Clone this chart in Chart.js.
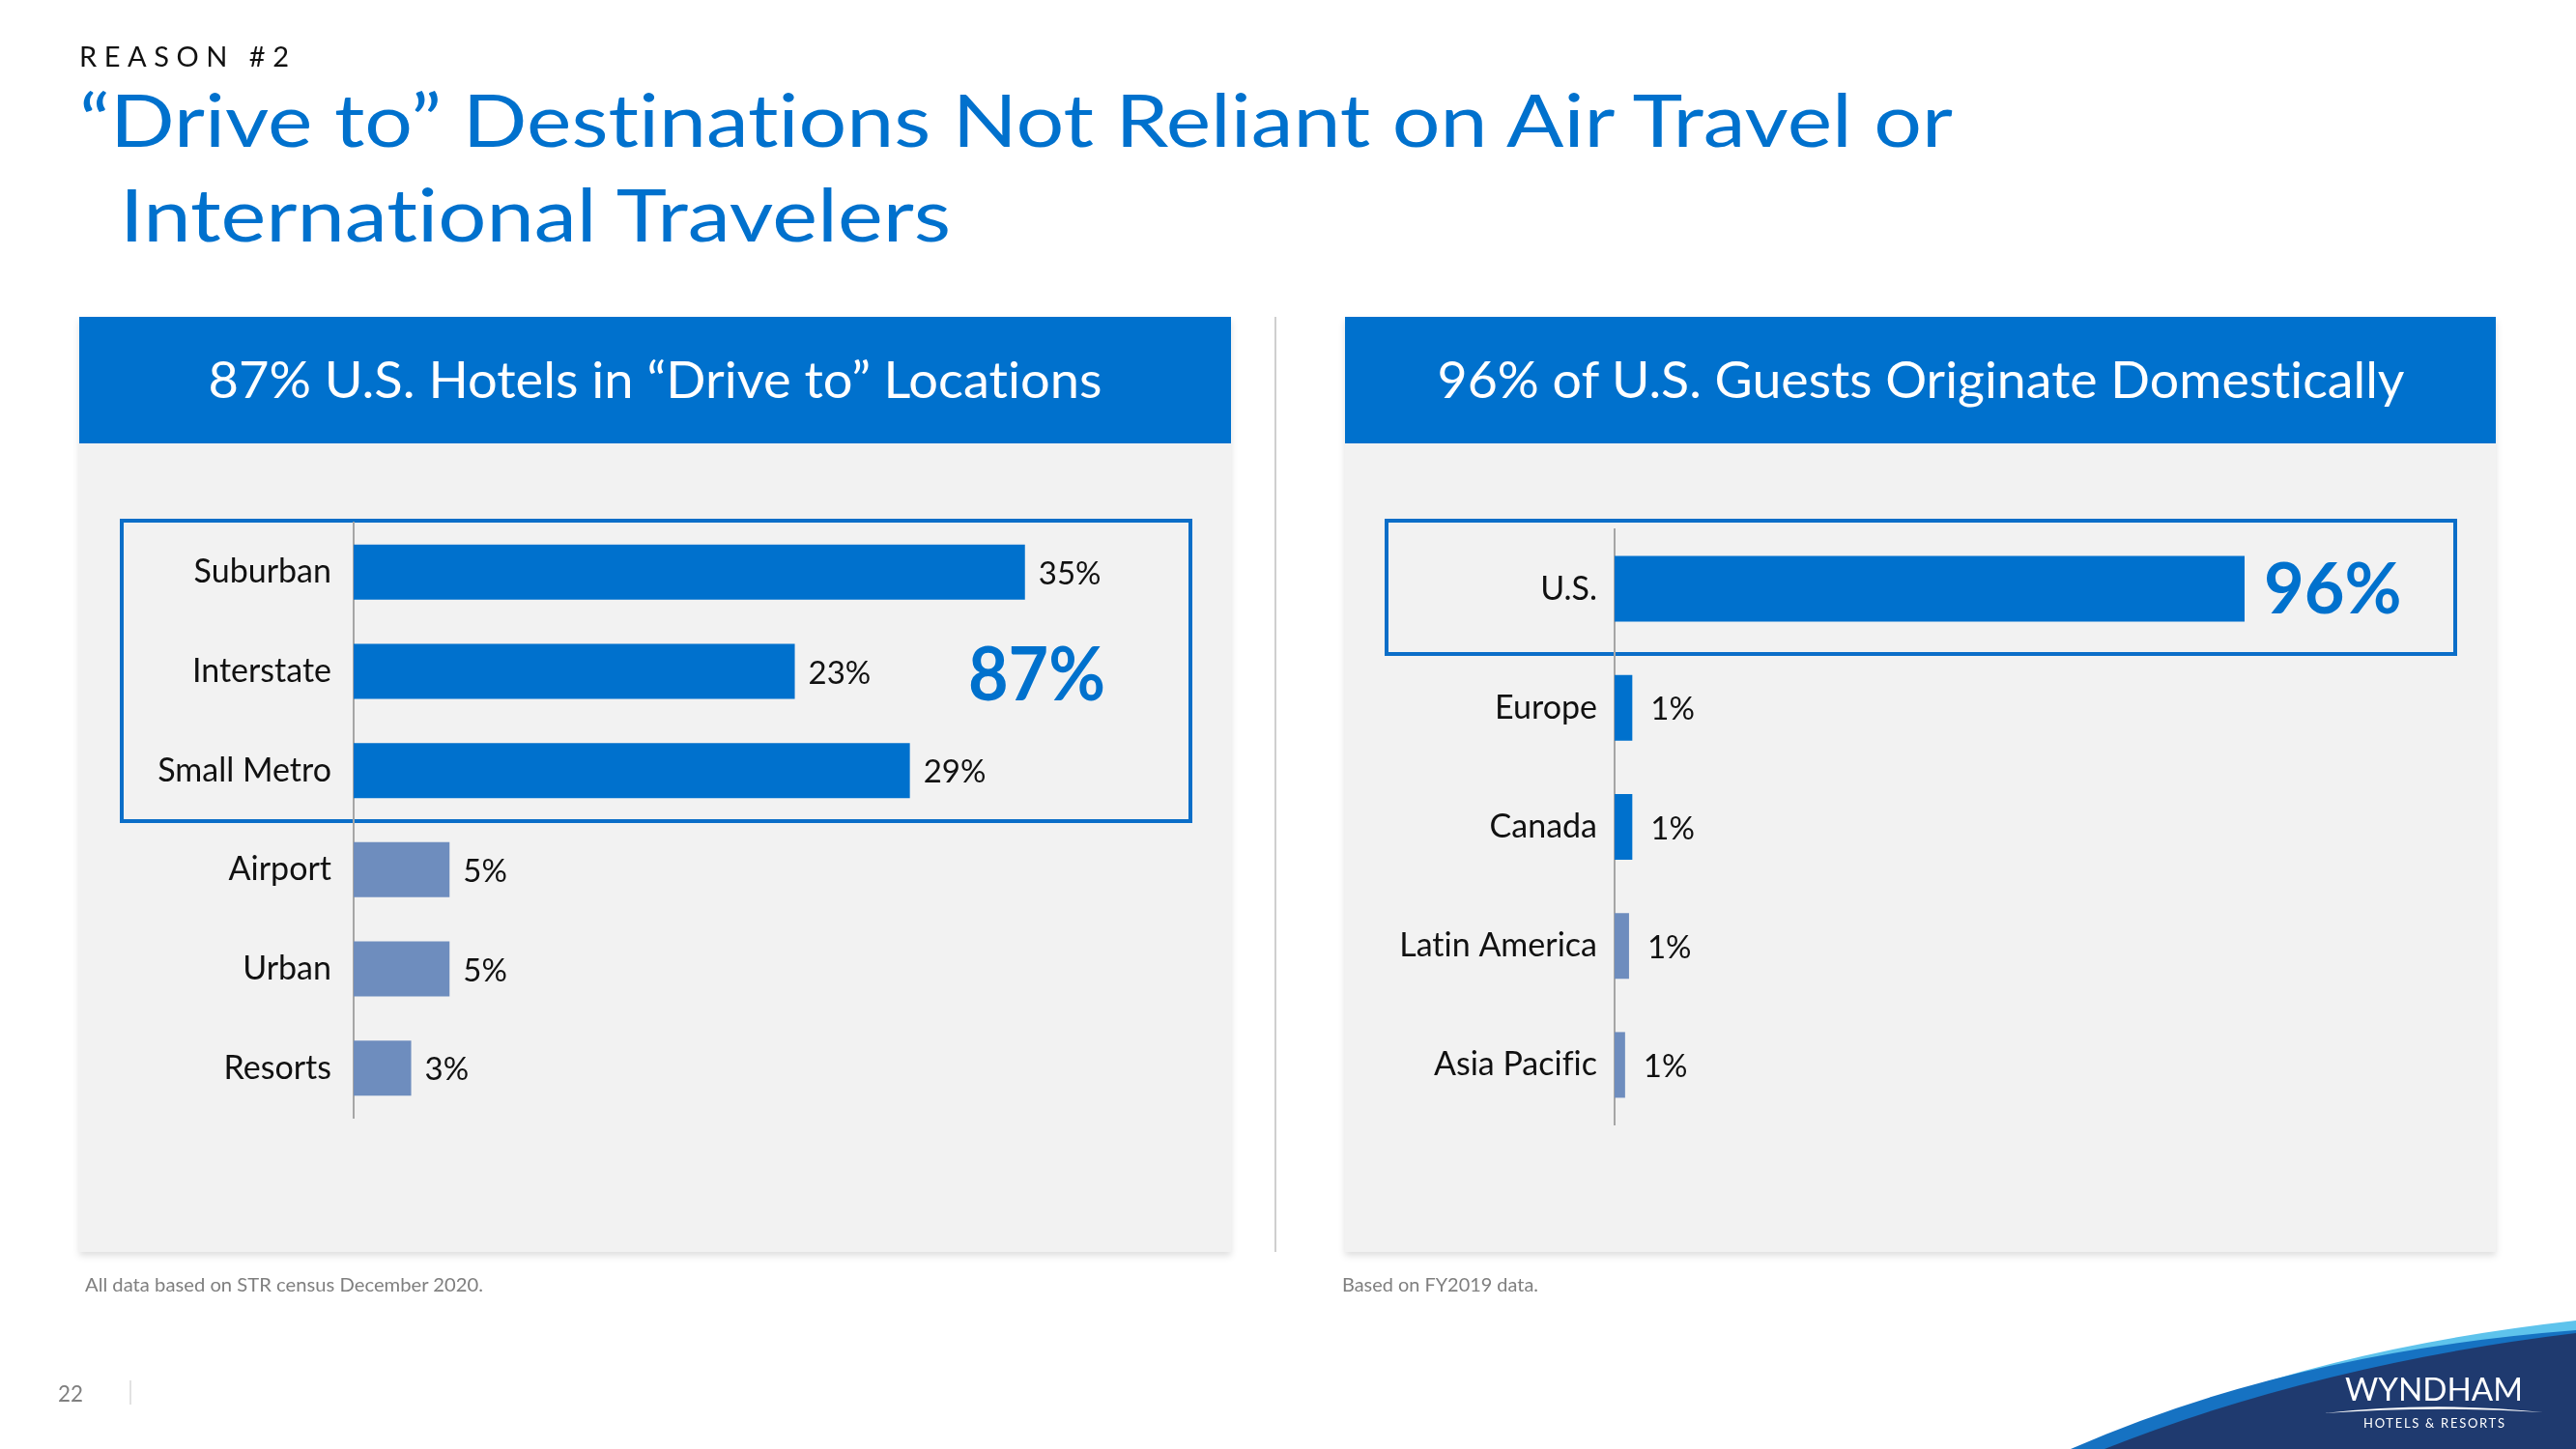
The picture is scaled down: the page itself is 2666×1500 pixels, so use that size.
<!DOCTYPE html>
<html>
<head>
<meta charset="utf-8">
<script src="https://cdn.jsdelivr.net/npm/chart.js@4.4.0/dist/chart.umd.min.js"></script>
<style>
  body { margin: 0; background: #fff; }
  #page { position: relative; width: 2666px; height: 1500px; overflow: hidden; background: #fff; font-family: Lato, sans-serif; font-variant-ligatures: none; }
  .panel { position: absolute; top: 328px; width: 1192px; height: 968px; background: #F2F2F2; box-shadow: 0 4px 7px rgba(0,0,0,0.13); }
  .panel .head { position: absolute; left: 0; top: 0; right: 0; height: 131px; background: #0071CD; }
  .box { position: absolute; box-sizing: border-box; border: 4px solid #0B6EC8; }
  canvas { position: absolute; }
  #divider { position: absolute; left: 1319px; top: 328px; width: 2px; height: 968px; background: #CFCFCF; }
  svg { position: absolute; left: 0; top: 0; pointer-events: none; font-variant-ligatures: none; }
</style>
</head>
<body>
<div id="page">
  <div class="panel" style="left:82px"><div class="head"></div></div>
  <div class="panel" style="left:1392px; width:1191px"><div class="head"></div></div>
  <div id="divider"></div>
  <div class="box" style="left:124px; top:537px; width:1110px; height:315px"></div>
  <div class="box" style="left:1433px; top:537px; width:1110px; height:142px"></div>
  <canvas id="hotels" width="1192" height="837" style="left:82px; top:459px"></canvas>
  <canvas id="guests" width="1190" height="837" style="left:1393px; top:459px"></canvas>

  <svg width="2666" height="1500" viewBox="0 0 2666 1500" font-family="Lato, sans-serif">
    <text x="82" y="69" font-size="29" fill="#111" textLength="217" lengthAdjust="spacing">REASON #2</text>
    <text x="82" y="152" font-size="75" fill="#0071CD" textLength="1939" lengthAdjust="spacingAndGlyphs">“Drive to” Destinations Not Reliant on Air Travel or</text>
    <text x="124" y="250" font-size="75" fill="#0071CD" textLength="860" lengthAdjust="spacingAndGlyphs">International Travelers</text>

    <text x="678" y="412" font-size="53" fill="#fff" text-anchor="middle" textLength="925" lengthAdjust="spacingAndGlyphs">87% U.S. Hotels in “Drive to” Locations</text>
    <text x="1988" y="412" font-size="53" fill="#fff" text-anchor="middle" textLength="1001" lengthAdjust="spacingAndGlyphs">96% of U.S. Guests Originate Domestically</text>

    <text x="1002" y="725" font-size="77" font-weight="bold" fill="#0071CD" textLength="142" lengthAdjust="spacingAndGlyphs">87%</text>

    <text x="88" y="1337" font-size="20" fill="#7F7F7F" textLength="412" lengthAdjust="spacingAndGlyphs">All data based on STR census December 2020.</text>
    <text x="1389" y="1337" font-size="20" fill="#7F7F7F" textLength="203" lengthAdjust="spacingAndGlyphs">Based on FY2019 data.</text>

    <text x="60" y="1451" font-size="24" fill="#7F7F7F" textLength="26" lengthAdjust="spacingAndGlyphs">22</text>
    <line x1="135" y1="1429" x2="135" y2="1454" stroke="#D9D9D9" stroke-width="1.5"/>

    <!-- logo corner -->
    <path d="M2300,1445 Q2460,1390 2666,1367 L2666,1500 L2300,1500 Z" fill="#5EC3EC"/>
    <path d="M2143,1500 Q2370,1400 2666,1377 L2666,1500 Z" fill="#1672C2"/>
    <path d="M2178,1500 Q2400,1412 2666,1380 L2666,1500 Z" fill="#1F3A6F"/>
    <text x="2427" y="1450" font-size="32" fill="#fff" textLength="184" lengthAdjust="spacingAndGlyphs">WYNDHAM</text>
    <path d="M2405,1463 Q2518,1450 2632,1462 Q2518,1455 2405,1463 Z" fill="#fff"/>
    <text x="2446" y="1478" font-size="13" fill="#fff" textLength="146" lengthAdjust="spacing">HOTELS &amp; RESORTS</text>
  </svg>
</div>

<script>
const hotelCategories = ['Suburban', 'Interstate', 'Small Metro', 'Airport', 'Urban', 'Resorts'];
const hotelShares = [35, 23, 29, 5, 5, 3];
const hotelLabels = ['35%', '23%', '29%', '5%', '5%', '3%'];

const guestRegions = ['U.S.', 'Europe', 'Canada', 'Latin America', 'Asia Pacific'];
const guestShares = [96, 2.7, 2.7, 2.2, 1.6];
const guestLabels = ['96%', '1%', '1%', '1%', '1%'];

const BLUE = '#0071CD';
const GREY_BLUE = '#6E8DBE';

// value text right of each bar
const barLabels = {
    id: 'barLabels',
    beforeDraw(chart) {
        // no fi / ti ligatures, like the original slide font
        chart.ctx.textRendering = 'optimizeSpeed';
        chart.ctx.letterSpacing = '0.01px';
    },
    afterDatasetsDraw(chart, args, opts) {
        const ctx = chart.ctx;
        const meta = chart.getDatasetMeta(0);
        ctx.save();
        ctx.textBaseline = 'middle';
        ctx.textAlign = 'left';
        meta.data.forEach((bar, i) => {
            const big = i === opts.bigIndex;
            ctx.font = big ? 'bold 72px Lato' : '33px Lato';
            ctx.fillStyle = big ? BLUE : '#111';
            ctx.fillText(opts.labels[i], bar.x + (big ? 20 : opts.offset), bar.y + 2);
        });
        ctx.restore();
    }
};

function barChart(id, cats, values, labels, cfg) {
    return new Chart(document.getElementById(id), {
        type: 'bar',
        data: {
            labels: cats,
            datasets: [{
                data: values,
                backgroundColor: (c) => c.dataIndex < 3 ? BLUE : GREY_BLUE,
                barPercentage: cfg.barPct,
                categoryPercentage: 1
            }]
        },
        options: {
            indexAxis: 'y',
            responsive: false,
            animation: false,
            layout: { padding: cfg.padding },
            scales: {
                x: { display: false, min: 0, max: cfg.max },
                y: {
                    grid: { display: false, drawTicks: false },
                    border: { display: true, color: '#A6A6A6', width: 2 },
                    ticks: { padding: cfg.tickPad, color: '#111', font: { family: 'Lato', size: 34 } },
                    afterFit: (s) => { s.width = cfg.axisWidth; }
                }
            },
            plugins: {
                legend: { display: false },
                tooltip: { enabled: false },
                barLabels: { labels: labels, offset: cfg.offset, bigIndex: cfg.bigIndex }
            }
        },
        plugins: [barLabels]
    });
}

barChart('hotels', hotelCategories, hotelShares, hotelLabels, {
    barPct: 0.556, max: 40, axisWidth: 284, tickPad: 23, offset: 14, bigIndex: -1,
    padding: { top: 82, bottom: 139, left: 0, right: 114 }
});

barChart('guests', guestRegions, guestShares, guestLabels, {
    barPct: 0.552, max: 120, axisWidth: 278, tickPad: 18, offset: 19, bigIndex: 0,
    padding: { top: 89, bottom: 132, left: 0, right: 97 }
});
</script>
</body>
</html>
